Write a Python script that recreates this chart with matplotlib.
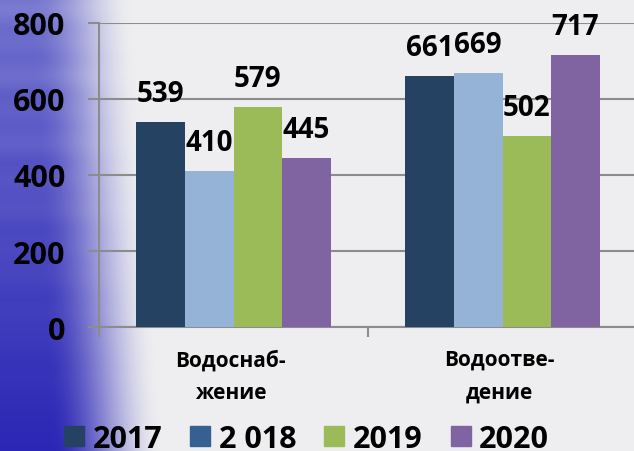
import numpy as np
import matplotlib
matplotlib.use("Agg")
import matplotlib.pyplot as plt
from matplotlib.lines import Line2D

categories = ["Водоснаб-\nжение", "Водоотве-\nдение"]
years = ["2017", "2 018", "2019", "2020"]
values = {
    "2017": [539, 661],
    "2 018": [410, 669],
    "2019": [579, 502],
    "2020": [445, 717],
}
bar_colors = ["#264263", "#95b3d7", "#9bbb59", "#8064a2"]
legend_colors = ["#264263", "#376092", "#9bbb59", "#8064a2"]

plt.rcParams["font.family"] = ["Open Sans", "DejaVu Sans"]
plt.rcParams["font.weight"] = "bold"

W, H = 634, 452
fig = plt.figure(figsize=(W / 100, H / 100), dpi=100)

# background: blue on the left fading to light grey, with soft streaks
bg = fig.add_axes([0, 0, 1, 1], zorder=-5)
yy, xx = np.mgrid[0:H, 0:W]
t = yy / (H - 1)
x0 = 30 + 20 * t
x1 = 135 + 30 * t
f = np.clip((xx - x0) / (x1 - x0), 0, 1)
f = f * f * (3 - 2 * f)
streak = 0.5 + 0.5 * np.sin(yy / 7.0) * np.sin(yy / 23.0 + 1.3)
streak = streak * (1 - t) ** 1.5
blue_top = np.array([0.42, 0.42, 0.80])
blue_bot = np.array([0.17, 0.15, 0.71])
blue = blue_top[None, None, :] * (1 - t[..., None]) + blue_bot[None, None, :] * t[..., None]
blue = blue + 0.12 * streak[..., None] * (1 - blue)
grey = np.array([0.937, 0.937, 0.945])
img = np.clip(blue * (1 - f[..., None]) + grey[None, None, :] * f[..., None], 0, 1)
bg.imshow(img, aspect="auto", extent=[0, W, H, 0])
bg.axis("off")

ax = fig.add_axes([99 / W, 1 - 328 / H, 538 / W, 304 / H])
ax.set_facecolor("none")

x = np.arange(len(categories))
bw = 0.181
for i, (yr, c) in enumerate(zip(years, bar_colors)):
    pos = x + (i - 1.5) * bw
    bars = ax.bar(pos, values[yr], bw, color=c, zorder=3)
    for b, v in zip(bars, values[yr]):
        ax.annotate(str(v), (b.get_x() + b.get_width() / 2, v),
                    xytext=(0, 10), textcoords="offset points",
                    ha="center", va="bottom", fontsize=20, fontweight="bold",
                    zorder=4)

ax.set_xlim(-0.5, 1.5)
ax.set_ylim(0, 800)
ax.set_yticks([0, 200, 400, 600, 800])
ax.tick_params(axis="y", length=8, width=1.5, color="#8c8c8c", pad=16,
               labelsize=22)
for lab in ax.get_yticklabels():
    lab.set_fontweight("bold")
ax.grid(axis="y", color="#8c8c8c", linewidth=1.5, zorder=0)

ax.set_xticks([-0.5, 0.5, 1.5])
ax.set_xticklabels([])
ax.tick_params(axis="x", which="major", length=7, width=1.5, color="#8c8c8c")
for xi, cat in zip(x, categories):
    ax.text(xi - 0.01, -0.072, cat, transform=ax.get_xaxis_transform(),
            ha="center", va="top", fontsize=15, fontweight="bold",
            linespacing=1.7, multialignment="center")

for s in ["top", "right"]:
    ax.spines[s].set_visible(False)
for s in ["left", "bottom"]:
    ax.spines[s].set_color("#8c8c8c")
    ax.spines[s].set_linewidth(1.5)

handles = [Line2D([], [], marker="s", linestyle="none", markersize=14,
                  markerfacecolor=c, markeredgecolor=c) for c in legend_colors]
fig.legend(handles, years, loc="center", bbox_to_anchor=(0.483, 1 - 440 / H),
           ncol=4, frameon=False, handlelength=0.7, handletextpad=0.25,
           columnspacing=0.9, borderpad=0, prop={"size": 22, "weight": "bold"})

fig.savefig("out.png", dpi=100)
